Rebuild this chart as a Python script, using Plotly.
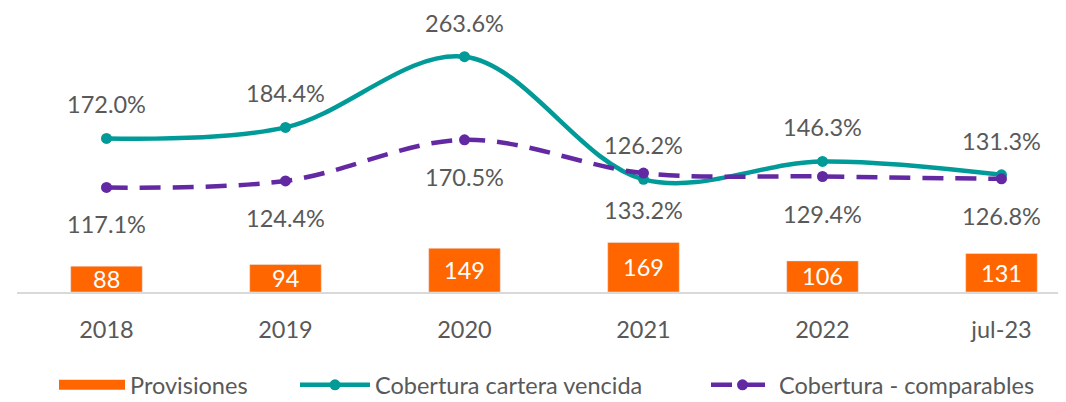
import plotly.graph_objects as go

categories = ["2018", "2019", "2020", "2021", "2022", "jul-23"]
provisiones = [88, 94, 149, 169, 106, 131]
cobertura_vencida = [172.0, 184.4, 263.6, 126.2, 146.3, 131.3]
cobertura_comparables = [117.1, 124.4, 170.5, 133.2, 129.4, 126.8]

ORANGE = "#FF6600"
TEAL = "#009B98"
PURPLE = "#6329A3"
TXT = "#595959"
FONT = "Lato"
FS = 23.5

x_idx = list(range(len(categories)))

# page offset of 8px (body margin) is compensated in margins
PL, PT, PW, PH = 17, 22, 1049, 270  # plot area in page pixels


def px_x(px):
    return (px - PL) / PW


def px_y(py):
    return (PT + PH - py) / PH


fig = go.Figure()
fig.add_trace(go.Bar(
    x=x_idx, y=provisiones, name="Provisiones", marker_color=ORANGE,
    width=0.4, yaxis="y", showlegend=False,
))
# legend-only proxy for the bar series (wide rectangle symbol)
fig.add_trace(go.Scatter(
    x=[None], y=[None], name="Provisiones", mode="lines",
    line=dict(color=ORANGE, width=16), legend="legend",
))
fig.add_trace(go.Scatter(
    x=x_idx, y=cobertura_vencida, name="Cobertura cartera vencida", yaxis="y2",
    mode="lines+markers", line=dict(color=TEAL, width=4.5, shape="spline", smoothing=1.0),
    marker=dict(color=TEAL, size=11), legend="legend2",
))
fig.add_trace(go.Scatter(
    x=x_idx, y=cobertura_comparables, name="Cobertura - comparables", yaxis="y2",
    mode="lines+markers", line=dict(color=PURPLE, width=4.5, dash="21px,12px", shape="spline", smoothing=1.0),
    marker=dict(color=PURPLE, size=11), legend="legend3",
))

annotations = []
for i, v in enumerate(provisiones):
    annotations.append(dict(x=i, y=v / 2, xref="x", yref="y", text=f"{v}", showarrow=False,
                            font=dict(family=FONT, size=FS, color="white")))
for i, v in enumerate(cobertura_vencida):
    annotations.append(dict(x=i, y=v, xref="x", yref="y2", text=f"{v:.1f}%", showarrow=False,
                            yshift=34, font=dict(family=FONT, size=FS, color=TXT)))
for i, v in enumerate(cobertura_comparables):
    annotations.append(dict(x=i, y=v, xref="x", yref="y2", text=f"{v:.1f}%", showarrow=False,
                            yshift=-37, font=dict(family=FONT, size=FS, color=TXT)))

leg_common = dict(orientation="h", yanchor="middle", y=px_y(385), xanchor="left",
                  font=dict(family=FONT, size=FS, color=TXT), bgcolor="rgba(0,0,0,0)")

fig.update_layout(
    width=1058, height=394,
    margin=dict(l=PL - 8, r=0, t=PT - 8, b=394 - (PT - 8) - PH, autoexpand=False),
    paper_bgcolor="white", plot_bgcolor="white",
    font=dict(family=FONT, size=FS, color=TXT),
    showlegend=True,
    legend=dict(x=px_x(54), itemwidth=66, **leg_common),
    legend2=dict(x=px_x(295), itemwidth=70, **leg_common),
    legend3=dict(x=px_x(706), itemwidth=63, **leg_common),
    xaxis=dict(range=[-0.5, -0.5 + PW / 179.0], tickmode="array", tickvals=x_idx, ticktext=categories,
               showgrid=False, zeroline=False, showline=True, linecolor="#D9D9D9", linewidth=2,
               ticks="", ticklabelstandoff=16, tickfont=dict(family=FONT, size=FS, color=TXT)),
    yaxis=dict(range=[0, 920], visible=False, showgrid=False, zeroline=False),
    yaxis2=dict(range=[0, 302.5], overlaying="y", side="right", visible=False,
                showgrid=False, zeroline=False),
    annotations=annotations,
)

fig.write_html("out.html")
